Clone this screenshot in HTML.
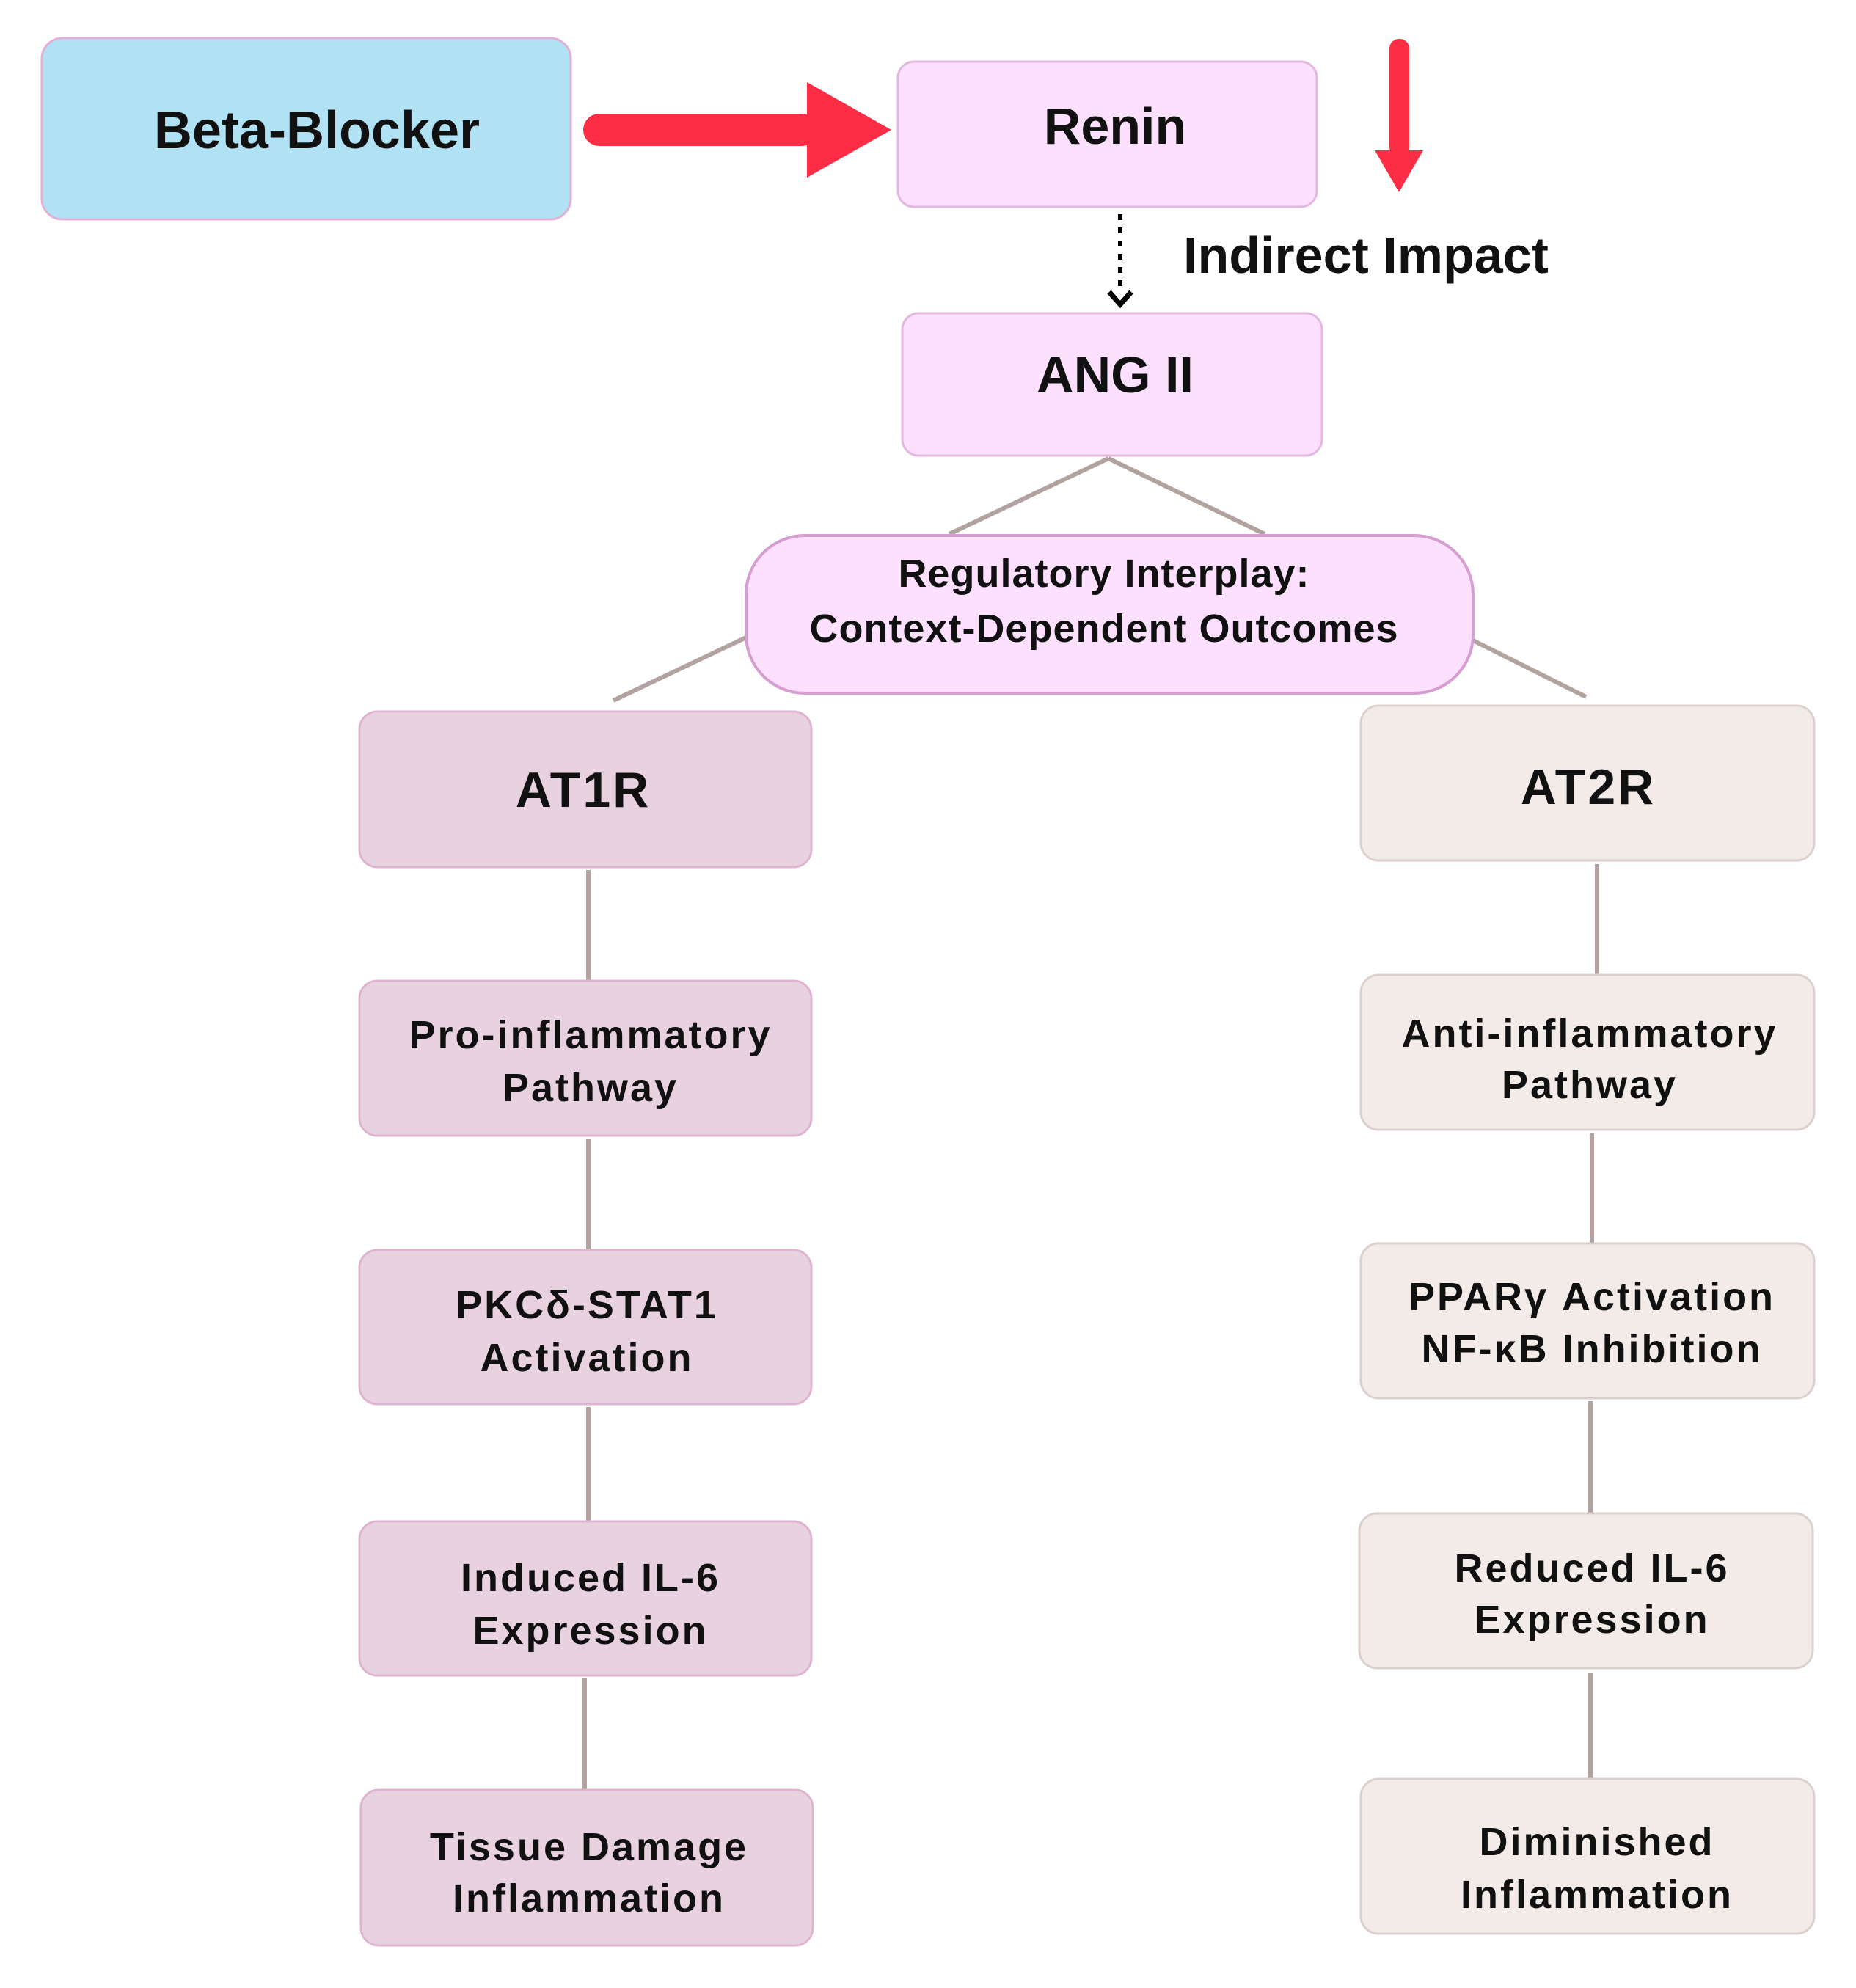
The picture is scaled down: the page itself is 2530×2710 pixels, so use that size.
<!DOCTYPE html>
<html><head><meta charset="utf-8"><style>
html,body{margin:0;padding:0;background:#fff;}
svg{display:block;}
text{font-family:"Liberation Sans",sans-serif;font-weight:bold;fill:#111;text-anchor:middle;}
.s{font-size:54px;letter-spacing:3px;}
</style></head><body>
<svg width="2530" height="2710" viewBox="0 0 2530 2710" xmlns="http://www.w3.org/2000/svg">
<g stroke="#b3a3a0" stroke-width="6" fill="none">
<line x1="1511" y1="625" x2="1294" y2="728"/>
<line x1="1511" y1="625" x2="1724" y2="728"/>
<line x1="1017" y1="869" x2="836" y2="955"/>
<line x1="2008" y1="873" x2="2162" y2="950"/>
<line x1="802" y1="1186" x2="802" y2="1337"/>
<line x1="802" y1="1552" x2="802" y2="1704"/>
<line x1="802" y1="1918" x2="802" y2="2074"/>
<line x1="797" y1="2288" x2="797" y2="2440"/>
<line x1="2177" y1="1178" x2="2177" y2="1329"/>
<line x1="2170" y1="1545" x2="2170" y2="1695"/>
<line x1="2168" y1="1910" x2="2168" y2="2063"/>
<line x1="2168" y1="2280" x2="2168" y2="2425"/>
</g>
<rect x="57" y="52" width="721" height="247" rx="28" fill="#b0e2f4" stroke="#e0b0d8" stroke-width="3"/>
<text x="432" y="202" font-size="72">Beta-Blocker</text>
<rect x="1224" y="84" width="571" height="198" rx="22" fill="#fde0fd" stroke="#e3b8e0" stroke-width="3"/>
<text x="1520" y="196" font-size="70">Renin</text>
<rect x="1230" y="427" width="572" height="194" rx="22" fill="#fde0fd" stroke="#e3b8e0" stroke-width="3"/>
<text x="1520" y="535" font-size="70">ANG II</text>
<rect x="1017" y="730" width="991" height="215" rx="80" fill="#fde0fd" stroke="#d69ed0" stroke-width="4"/>
<text x="1505" y="800" font-size="54" letter-spacing="1">Regulatory Interplay:</text>
<text x="1505" y="875" font-size="54" letter-spacing="1">Context-Dependent Outcomes</text>
<rect x="795" y="155" width="320" height="44" rx="22" fill="#fd2d46"/>
<polygon points="1100,112 1215,177 1100,242" fill="#fd2d46"/>
<rect x="1894" y="53" width="27" height="160" rx="13" fill="#fd2d46"/>
<polygon points="1874,205 1940,205 1907,262" fill="#fd2d46"/>
<line x1="1527" y1="292" x2="1527" y2="398" stroke="#000" stroke-width="6" stroke-dasharray="8,10"/>
<polyline points="1512,398 1527,415 1542,398" fill="none" stroke="#000" stroke-width="7"/>
<text x="1613" y="372" font-size="70" style="text-anchor:start">Indirect Impact</text>
<g fill="#e8d2e0" stroke="#dfb4d0" stroke-width="3">
<rect x="490" y="970" width="616" height="212" rx="24"/>
<rect x="490" y="1337" width="616" height="211" rx="24"/>
<rect x="490" y="1704" width="616" height="210" rx="24"/>
<rect x="490" y="2074" width="616" height="210" rx="24"/>
<rect x="492" y="2440" width="616" height="212" rx="24"/>
</g>
<g fill="#f3ebe8" stroke="#dcd0cd" stroke-width="3">
<rect x="1855" y="962" width="618" height="211" rx="24"/>
<rect x="1855" y="1329" width="618" height="211" rx="24"/>
<rect x="1855" y="1695" width="618" height="211" rx="24"/>
<rect x="1853" y="2063" width="618" height="211" rx="24"/>
<rect x="1855" y="2425" width="618" height="211" rx="24"/>
</g>
<text x="795" y="1100" font-size="68" letter-spacing="3">AT1R</text>
<text x="2165" y="1096" font-size="68" letter-spacing="3">AT2R</text>
<text class="s" x="805" y="1429">Pro-inflammatory</text>
<text class="s" x="805" y="1501">Pathway</text>
<text class="s" x="800" y="1797">PKCδ-STAT1</text>
<text class="s" x="800" y="1869">Activation</text>
<text class="s" x="805" y="2169">Induced IL-6</text>
<text class="s" x="805" y="2241">Expression</text>
<text class="s" x="803" y="2536">Tissue Damage</text>
<text class="s" x="803" y="2606">Inflammation</text>
<text class="s" x="2167" y="1427">Anti-inflammatory</text>
<text class="s" x="2167" y="1497">Pathway</text>
<text class="s" x="2170" y="1786">PPARγ Activation</text>
<text class="s" x="2170" y="1857">NF-κB Inhibition</text>
<text class="s" x="2170" y="2156">Reduced IL-6</text>
<text class="s" x="2170" y="2226">Expression</text>
<text class="s" x="2177" y="2529">Diminished</text>
<text class="s" x="2177" y="2601">Inflammation</text>
</svg>
</body></html>
